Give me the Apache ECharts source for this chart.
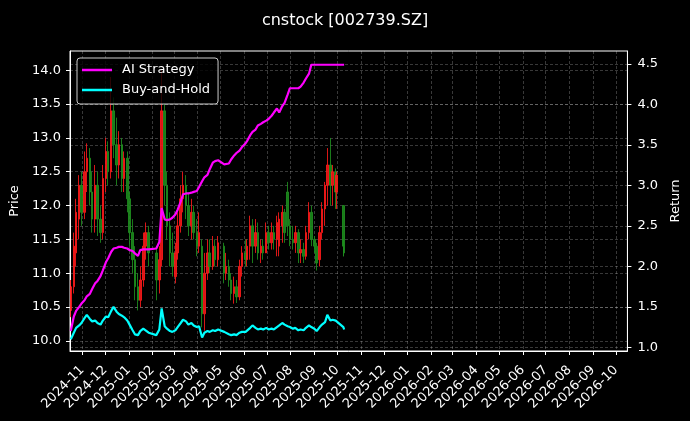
<!DOCTYPE html>
<html>
<head>
<meta charset="utf-8">
<script src="https://cdn.jsdelivr.net/npm/echarts@6/dist/echarts.min.js"></script>
<style>
  html, body { margin: 0; padding: 0; background: #000; }
  #chartBox { width: 690px; height: 421px; }
</style>
</head>
<body>
<div id="chartBox"></div>
<script>
// trading days shown (sampled)
const tradeDates = [
  "2024-10-17", "2024-10-21", "2024-10-24", "2024-10-28", "2024-10-31",
  "2024-11-04", "2024-11-07", "2024-11-11", "2024-11-14", "2024-11-18",
  "2024-11-21", "2024-11-25", "2024-11-28", "2024-12-02", "2024-12-05",
  "2024-12-09", "2024-12-12", "2024-12-16", "2024-12-19", "2024-12-23",
  "2024-12-26", "2024-12-30", "2025-01-02", "2025-01-06", "2025-01-09",
  "2025-01-13", "2025-01-16", "2025-01-20", "2025-01-23", "2025-01-27",
  "2025-02-06", "2025-02-10", "2025-02-13", "2025-02-17", "2025-02-20",
  "2025-02-24", "2025-02-27", "2025-03-03", "2025-03-06", "2025-03-10",
  "2025-03-13", "2025-03-17", "2025-03-20", "2025-03-24", "2025-03-27",
  "2025-03-31", "2025-04-03", "2025-04-07", "2025-04-10", "2025-04-14",
  "2025-04-17", "2025-04-21", "2025-04-24", "2025-04-28", "2025-05-06",
  "2025-05-08", "2025-05-12", "2025-05-15", "2025-05-19", "2025-05-22",
  "2025-05-26", "2025-05-29", "2025-06-03", "2025-06-05", "2025-06-09",
  "2025-06-12", "2025-06-16", "2025-06-19", "2025-06-23", "2025-06-26",
  "2025-06-30", "2025-07-03", "2025-07-07", "2025-07-10", "2025-07-14",
  "2025-07-17", "2025-07-21", "2025-07-24", "2025-07-28", "2025-07-31",
  "2025-08-04", "2025-08-07", "2025-08-11", "2025-08-14", "2025-08-18",
  "2025-08-21", "2025-08-25", "2025-08-28", "2025-09-01", "2025-09-04",
  "2025-09-08", "2025-09-11", "2025-09-15", "2025-09-18", "2025-09-22",
  "2025-09-25", "2025-09-29", "2025-09-30", "2025-10-09", "2025-10-10"
];

// [open, close, low, high]
const ohlc = [
  [10.45, 10.8, 10.35, 10.9], [10.8, 11.4, 10.7, 11.6], [11.3, 11.9, 11.1, 12.1], [11.8, 12.3, 11.5, 12.45], [12.3, 11.9, 11.7, 12.5],
  [11.9, 12.5, 11.8, 12.8], [12.5, 12.7, 12.2, 12.92], [12.7, 12.2, 12.0, 12.85], [12.2, 11.8, 11.6, 12.5], [11.8, 12.3, 11.6, 12.6],
  [12.3, 11.8, 11.55, 12.5], [11.8, 11.6, 11.45, 12.0], [11.6, 12.4, 11.5, 12.6], [12.4, 12.8, 12.2, 13.0], [12.8, 12.5, 12.3, 12.95],
  [12.5, 13.4, 12.4, 13.9], [13.4, 12.9, 12.7, 13.6], [12.9, 12.6, 12.3, 13.3], [12.6, 12.9, 12.4, 13.1], [12.9, 12.4, 12.2, 13.0],
  [12.4, 12.7, 12.2, 12.8], [12.7, 12.1, 11.9, 12.8], [12.1, 11.6, 11.4, 12.2], [11.6, 11.2, 11.0, 11.8], [11.2, 10.8, 10.6, 11.4],
  [10.8, 10.6, 10.45, 11.0], [10.6, 10.9, 10.5, 11.1], [10.9, 11.4, 10.8, 11.6], [11.4, 11.6, 11.2, 11.75], [11.6, 11.3, 11.1, 11.7],
  [11.3, 10.9, 10.6, 11.4], [10.9, 11.2, 10.7, 11.4], [11.2, 13.4, 11.1, 14.0], [13.4, 12.3, 12.0, 13.5], [12.3, 11.7, 11.5, 12.5],
  [11.7, 11.3, 11.1, 11.9], [11.3, 11.1, 10.95, 11.6], [10.95, 11.3, 10.85, 11.45], [11.3, 11.7, 11.2, 11.9], [11.7, 12.1, 11.6, 12.3],
  [12.1, 12.3, 11.9, 12.5], [12.3, 12.0, 11.8, 12.45], [12.0, 11.7, 11.55, 12.2], [11.7, 11.9, 11.5, 12.1], [11.9, 11.6, 11.5, 12.0],
  [11.6, 11.4, 11.25, 11.8], [11.4, 11.6, 11.3, 11.9], [11.4, 10.4, 10.2, 11.5], [10.4, 11.0, 10.15, 11.3], [11.0, 11.3, 10.9, 11.5],
  [11.3, 11.1, 11.0, 11.5], [11.1, 11.4, 11.05, 11.55], [11.4, 11.2, 11.1, 11.5], [11.2, 11.45, 11.1, 11.55], [11.4, 11.0, 10.85, 11.45],
  [11.0, 11.1, 10.9, 11.3], [11.1, 10.9, 10.8, 11.2], [10.9, 10.7, 10.6, 11.0], [10.7, 10.8, 10.55, 10.95], [10.8, 10.65, 10.56, 10.9],
  [10.65, 11.1, 10.6, 11.2], [11.1, 11.3, 10.95, 11.4], [11.3, 11.2, 11.1, 11.5], [11.2, 11.4, 11.1, 11.5], [11.4, 11.7, 11.2, 11.85],
  [11.7, 11.4, 11.15, 11.8], [11.4, 11.6, 11.3, 11.8], [11.6, 11.3, 11.2, 11.75], [11.3, 11.4, 11.15, 11.5], [11.4, 11.3, 11.2, 11.5],
  [11.3, 11.6, 11.3, 11.75], [11.6, 11.45, 11.35, 11.7], [11.45, 11.6, 11.35, 11.75], [11.6, 11.5, 11.35, 11.7], [11.5, 11.75, 11.25, 11.85],
  [11.4, 11.8, 11.25, 11.9], [11.7, 11.9, 11.45, 12.0], [11.9, 11.6, 11.45, 11.95], [12.2, 11.7, 11.55, 12.35], [11.7, 11.5, 11.4, 11.8],
  [11.5, 11.45, 11.35, 11.7], [11.45, 11.6, 11.3, 11.7], [11.6, 11.3, 11.15, 11.65], [11.3, 11.35, 11.15, 11.5], [11.35, 11.25, 11.15, 11.45],
  [11.25, 11.6, 11.2, 11.7], [11.6, 11.9, 11.5, 12.05], [11.9, 11.5, 11.4, 12.0], [11.5, 11.4, 11.3, 11.55], [11.4, 11.15, 11.04, 11.45],
  [11.2, 11.6, 11.1, 11.7], [11.6, 11.95, 11.5, 12.05], [11.95, 12.3, 11.7, 12.35], [12.3, 12.6, 12.0, 12.85], [12.6, 12.3, 12.0, 13.0],
  [12.3, 12.5, 12.0, 12.6], [12.5, 12.2, 11.95, 12.55], [12.2, 12.45, 11.95, 12.5], [12.0, 11.4, 11.25, 12.0], [11.4, 11.3, 11.25, 11.5]
];

const strategyReturn = [
  1.20, 1.38, 1.45, 1.50, 1.54, 1.58, 1.63, 1.66, 1.72, 1.79,
  1.82, 1.88, 1.95, 2.05, 2.10, 2.18, 2.22, 2.23, 2.24, 2.24,
  2.23, 2.22, 2.20, 2.19, 2.16, 2.13, 2.20, 2.21, 2.21, 2.21,
  2.22, 2.30, 2.72, 2.58, 2.57, 2.58, 2.60, 2.64, 2.70, 2.80,
  2.89, 2.90, 2.90, 2.91, 2.92, 2.93, 2.98, 3.05, 3.10, 3.13,
  3.20, 3.28, 3.30, 3.31, 3.26, 3.25, 3.27, 3.32, 3.37, 3.40,
  3.43, 3.47, 3.52, 3.55, 3.62, 3.66, 3.69, 3.74, 3.76, 3.78,
  3.80, 3.82, 3.86, 3.90, 3.95, 3.90, 3.98, 4.02, 4.12, 4.20,
  4.20, 4.20, 4.20, 4.22, 4.27, 4.32, 4.38, 4.49, 4.49, 4.49,
  4.49, 4.49, 4.49, 4.49, 4.49, 4.49, 4.49, 4.49, 4.49, 4.49
];

const buyHoldReturn = [
  1.10, 1.18, 1.24, 1.27, 1.30, 1.36, 1.40, 1.35, 1.32, 1.33,
  1.30, 1.28, 1.33, 1.38, 1.37, 1.45, 1.50, 1.44, 1.41, 1.39,
  1.37, 1.33, 1.28, 1.21, 1.16, 1.15, 1.20, 1.23, 1.21, 1.18,
  1.15, 1.22, 1.48, 1.26, 1.23, 1.20, 1.19, 1.21, 1.25, 1.30,
  1.34, 1.32, 1.28, 1.30, 1.27, 1.25, 1.26, 1.12, 1.18, 1.20,
  1.19, 1.21, 1.20, 1.22, 1.19, 1.20, 1.16, 1.15, 1.16, 1.15,
  1.18, 1.19, 1.19, 1.21, 1.24, 1.27, 1.24, 1.22, 1.23, 1.22,
  1.24, 1.22, 1.23, 1.22, 1.25, 1.27, 1.30, 1.28, 1.26, 1.25,
  1.23, 1.24, 1.21, 1.22, 1.21, 1.24, 1.27, 1.25, 1.23, 1.20,
  1.25, 1.28, 1.31, 1.40, 1.33, 1.34, 1.33, 1.32, 1.25, 1.22
];

// tick values of both value axes
const priceTicks = [10.0, 10.5, 11.0, 11.5, 12.0, 12.5, 13.0, 13.5, 14.0];
const returnTicks = [1.0, 1.5, 2.0, 2.5, 3.0, 3.5, 4.0, 4.5];

const DAY = 24 * 3600 * 1000;
const gridLine = { show: true, lineStyle: { color: "rgba(255,255,255,0.28)", type: [3, 2], width: 0.8 } };
const white = { color: "#fff" };

const chart = echarts.init(document.getElementById("chartBox"));
const option = {
  backgroundColor: "#000",
  animation: false,
  textStyle: { fontFamily: "DejaVu Sans", color: "#fff" },
  title: {
    text: "cnstock [002739.SZ]",
    left: "center",
    top: 8,
    textStyle: { color: "#fff", fontSize: 16, fontWeight: "normal", fontFamily: "DejaVu Sans" },
  },
  legend: {
    data: ["AI Strategy", "Buy-and-Hold"],
    orient: "vertical",
    left: 77,
    top: 58,
    icon: "rect",
    itemWidth: 30,
    itemHeight: 2.5,
    itemGap: 4,
    padding: [4, 8, 6, 5],
    backgroundColor: "rgba(0,0,0,0.8)",
    borderColor: "#cccccc",
    borderWidth: 1,
    borderRadius: 3,
    textStyle: { color: "#fff", fontSize: 13, lineHeight: 16, padding: [0, 0, 0, 5], fontFamily: "DejaVu Sans" },
  },
  grid: { left: 70, right: 61, top: 51, bottom: 70, show: true, borderColor: "#fff", borderWidth: 1 },
  xAxis: {
    type: "time",
    min: "2024-10-16",
    max: "2026-10-16",
    minInterval: 28 * DAY,
    maxInterval: 31 * DAY,
    axisLine: { lineStyle: white },
    axisTick: { length: 4, lineStyle: white },
    axisLabel: {
      color: "#fff", fontSize: 13, rotate: 45, margin: 17,
      formatter: "{yyyy}-{MM}", showMinLabel: false, showMaxLabel: false,
    },
    splitLine: gridLine,
  },
  yAxis: [
    {
      type: "value", position: "left", min: 9.85, max: 14.285,
      name: "Price", nameLocation: "middle", nameGap: 41, nameRotate: 90,
      nameTextStyle: { color: "#fff", fontSize: 13 },
      axisLine: { show: true, lineStyle: white },
      axisTick: { show: true, length: 4, lineStyle: white, customValues: priceTicks },
      axisLabel: { color: "#fff", fontSize: 13, margin: 9, customValues: priceTicks, formatter: (v) => v.toFixed(1) },
      splitLine: gridLine,
    },
    {
      type: "value", position: "right", min: 0.954, max: 4.66,
      name: "Return", nameLocation: "middle", nameGap: 31, nameRotate: 90,
      nameTextStyle: { color: "#fff", fontSize: 13 },
      axisLine: { show: true, lineStyle: white },
      axisTick: { show: true, length: 4, lineStyle: white, customValues: returnTicks },
      axisLabel: { color: "#fff", fontSize: 13, margin: 10, customValues: returnTicks, formatter: (v) => v.toFixed(1) },
      splitLine: gridLine,
    },
  ],
  series: [
    {
      name: "Price",
      type: "candlestick",
      data: tradeDates.map((d, i) => [d].concat(ohlc[i])),
      encode: { x: 0, y: [1, 2, 3, 4] },
      barWidth: 2,
      itemStyle: {
        color: "#ff1a1a", color0: "#1f8f1f",
        borderColor: "#ff1a1a", borderColor0: "#1f8f1f",
        borderWidth: 1, opacity: 0.85,
      },
    },
    {
      name: "AI Strategy",
      type: "line",
      yAxisIndex: 1,
      symbol: "none",
      data: tradeDates.map((d, i) => [d, strategyReturn[i]]),
      lineStyle: { color: "#ff00ff", width: 2.2 },
      itemStyle: { color: "#ff00ff" },
      z: 5,
    },
    {
      name: "Buy-and-Hold",
      type: "line",
      yAxisIndex: 1,
      symbol: "none",
      data: tradeDates.map((d, i) => [d, buyHoldReturn[i]]),
      lineStyle: { color: "#00ffff", width: 2.2 },
      itemStyle: { color: "#00ffff" },
      z: 5,
    },
  ],
};
option && chart.setOption(option);
</script>
</body>
</html>
